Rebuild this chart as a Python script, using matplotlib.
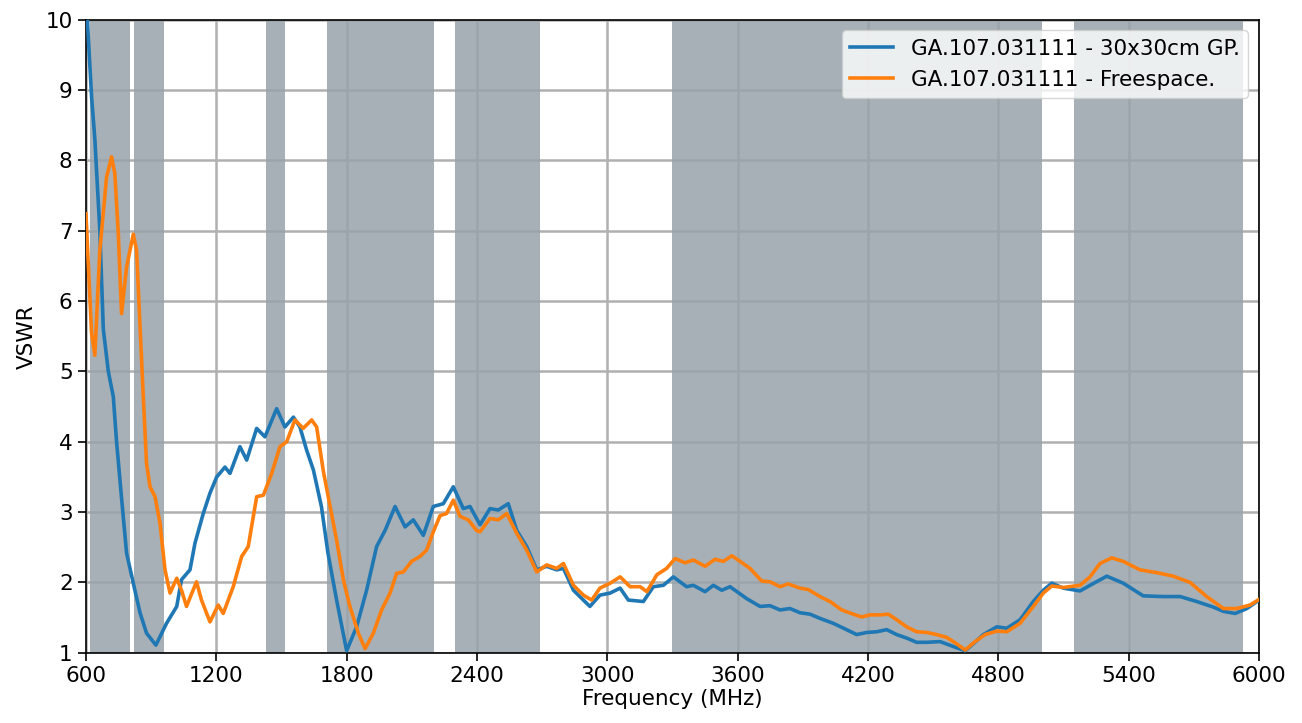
import matplotlib
matplotlib.use('Agg')
import matplotlib.pyplot as plt
import numpy as np

# frequency bands shaded in the background (MHz)
bands = [(617, 803), (822, 958), (1427, 1517), (1710, 2200),
         (2300, 2690), (3300, 5000), (5150, 5925)]

# GA.107.031111 on 30x30cm ground plane
gp_freq = [600, 610, 626, 641, 664, 680, 703, 726, 741, 764, 787, 818, 849, 879, 922,
           971, 1018, 1040, 1079, 1102, 1140, 1171, 1202, 1240, 1263, 1309, 1340, 1386,
           1424, 1478, 1516, 1555, 1585, 1616, 1647, 1684, 1714, 1754, 1800, 1846, 1892,
           1938, 1977, 2023, 2069, 2107, 2153, 2199, 2245, 2291, 2337, 2368, 2414, 2460,
           2498, 2544, 2583, 2629, 2675, 2721, 2767, 2798, 2844, 2890, 2920, 2966, 3013,
           3059, 3097, 3166, 3212, 3258, 3304, 3365, 3396, 3450, 3488, 3527, 3565, 3642,
           3703, 3749, 3795, 3841, 3887, 3933, 3979, 4040, 4101, 4148, 4194, 4240, 4286,
           4332, 4378, 4424, 4470, 4532, 4593, 4647, 4685, 4731, 4793, 4839, 4900, 4961,
           5007, 5046, 5099, 5176, 5222, 5299, 5375, 5467, 5559, 5637, 5713, 5790, 5836,
           5890, 5944, 6000]
gp_vswr = [10.5, 9.8, 8.9, 8.3, 7.0, 5.6, 5.0, 4.64, 4.0, 3.2, 2.42, 1.99, 1.57, 1.28, 1.11,
           1.42, 1.66, 2.04, 2.18, 2.56, 2.98, 3.27, 3.50, 3.64, 3.55, 3.93, 3.74, 4.19,
           4.07, 4.47, 4.21, 4.35, 4.21, 3.88, 3.6, 3.08, 2.42, 1.75, 1.03, 1.37, 1.89,
           2.51, 2.74, 3.08, 2.79, 2.89, 2.67, 3.08, 3.12, 3.36, 3.05, 3.08, 2.82, 3.05,
           3.03, 3.12, 2.74, 2.51, 2.18, 2.23, 2.18, 2.20, 1.89, 1.75, 1.66, 1.82, 1.85,
           1.92, 1.75, 1.73, 1.94, 1.96, 2.08, 1.94, 1.96, 1.87, 1.96, 1.89, 1.94, 1.77,
           1.66, 1.67, 1.61, 1.63, 1.57, 1.55, 1.49, 1.42, 1.33, 1.26, 1.29, 1.30, 1.33,
           1.26, 1.21, 1.15, 1.15, 1.16, 1.09, 1.03, 1.13, 1.26, 1.37, 1.35, 1.47, 1.73,
           1.89, 1.99, 1.92, 1.88, 1.96, 2.09, 1.99, 1.81, 1.80, 1.80, 1.73, 1.65, 1.59,
           1.56, 1.63, 1.75]

# GA.107.031111 in free space
fs_freq = [600, 626, 641, 664, 695, 718, 733, 749, 764, 787, 818, 833, 849, 864, 879, 895,
           918, 941, 964, 987, 1018, 1040, 1063, 1109, 1132, 1171, 1209, 1232, 1278, 1317,
           1347, 1386, 1417, 1455, 1493, 1524, 1562, 1600, 1639, 1662, 1693, 1723, 1754,
           1785, 1815, 1854, 1885, 1923, 1961, 2000, 2030, 2061, 2099, 2138, 2168, 2199,
           2230, 2260, 2291, 2322, 2360, 2398, 2414, 2460, 2498, 2537, 2583, 2629, 2675,
           2721, 2767, 2798, 2844, 2890, 2928, 2966, 3013, 3059, 3105, 3151, 3182, 3228,
           3273, 3312, 3358, 3396, 3450, 3496, 3534, 3573, 3611, 3657, 3711, 3749, 3795,
           3833, 3887, 3925, 3979, 4025, 4079, 4132, 4171, 4209, 4255, 4294, 4332, 4378,
           4424, 4470, 4516, 4562, 4608, 4647, 4693, 4739, 4793, 4839, 4900, 4961, 5007,
           5046, 5099, 5176, 5222, 5268, 5322, 5375, 5452, 5529, 5605, 5683, 5759, 5836,
           5897, 5959, 6000]
fs_vswr = [7.24, 5.54, 5.23, 6.72, 7.76, 8.05, 7.81, 6.96, 5.82, 6.48, 6.95, 6.72, 5.63,
           4.64, 3.69, 3.36, 3.22, 2.84, 2.18, 1.85, 2.06, 1.89, 1.66, 2.01, 1.75, 1.44,
           1.68, 1.56, 1.94, 2.37, 2.51, 3.22, 3.24, 3.55, 3.93, 4.00, 4.31, 4.19, 4.31,
           4.21, 3.58, 3.10, 2.60, 2.04, 1.66, 1.28, 1.06, 1.28, 1.61, 1.85, 2.13, 2.15,
           2.30, 2.37, 2.46, 2.72, 2.95, 2.98, 3.17, 2.94, 2.89, 2.74, 2.72, 2.91, 2.89,
           2.98, 2.70, 2.46, 2.15, 2.25, 2.20, 2.27, 1.96, 1.82, 1.75, 1.92, 1.99, 2.08,
           1.94, 1.94, 1.87, 2.11, 2.20, 2.34, 2.28, 2.32, 2.23, 2.33, 2.30, 2.38, 2.30,
           2.20, 2.02, 2.01, 1.94, 1.98, 1.92, 1.90, 1.80, 1.73, 1.61, 1.55, 1.51, 1.54,
           1.54, 1.55, 1.47, 1.37, 1.30, 1.29, 1.26, 1.22, 1.13, 1.04, 1.16, 1.26, 1.31,
           1.30, 1.42, 1.66, 1.85, 1.95, 1.93, 1.96, 2.08, 2.27, 2.35, 2.30, 2.18, 2.14,
           2.09, 2.00, 1.80, 1.63, 1.63, 1.68, 1.76]

x_ticks = np.arange(600, 6001, 600)
y_ticks = np.arange(1, 11, 1)


def main():
    plt.rcParams['font.size'] = 15.5
    fig = plt.figure(figsize=(13.02, 7.23), dpi=100)
    ax = fig.add_axes([0.066, 0.097, 0.901, 0.876])

    ax.grid(True, color='#b0b0b0', linewidth=1.8)
    for lo, hi in bands:
        ax.axvspan(lo, hi, color='#97a3a9', alpha=0.85, linewidth=0, zorder=2)

    ax.plot(gp_freq, gp_vswr, color='#1f77b4', linewidth=2.6, zorder=3,
            label='GA.107.031111 - 30x30cm GP.')
    ax.plot(fs_freq, fs_vswr, color='#ff7f0e', linewidth=2.6, zorder=3,
            label='GA.107.031111 - Freespace.')

    ax.set_xlim(600, 6000)
    ax.set_ylim(1, 10)
    ax.set_xticks(x_ticks)
    ax.set_yticks(y_ticks)
    ax.tick_params(length=6, width=1.2)
    for s in ax.spines.values():
        s.set_linewidth(1.2)
    ax.set_xlabel('Frequency (MHz)', labelpad=2)
    ax.set_ylabel('VSWR', labelpad=6)
    ax.legend(loc='upper right', fontsize=15.5)

    fig.savefig('out.png', dpi=100)


if __name__ == '__main__':
    main()
